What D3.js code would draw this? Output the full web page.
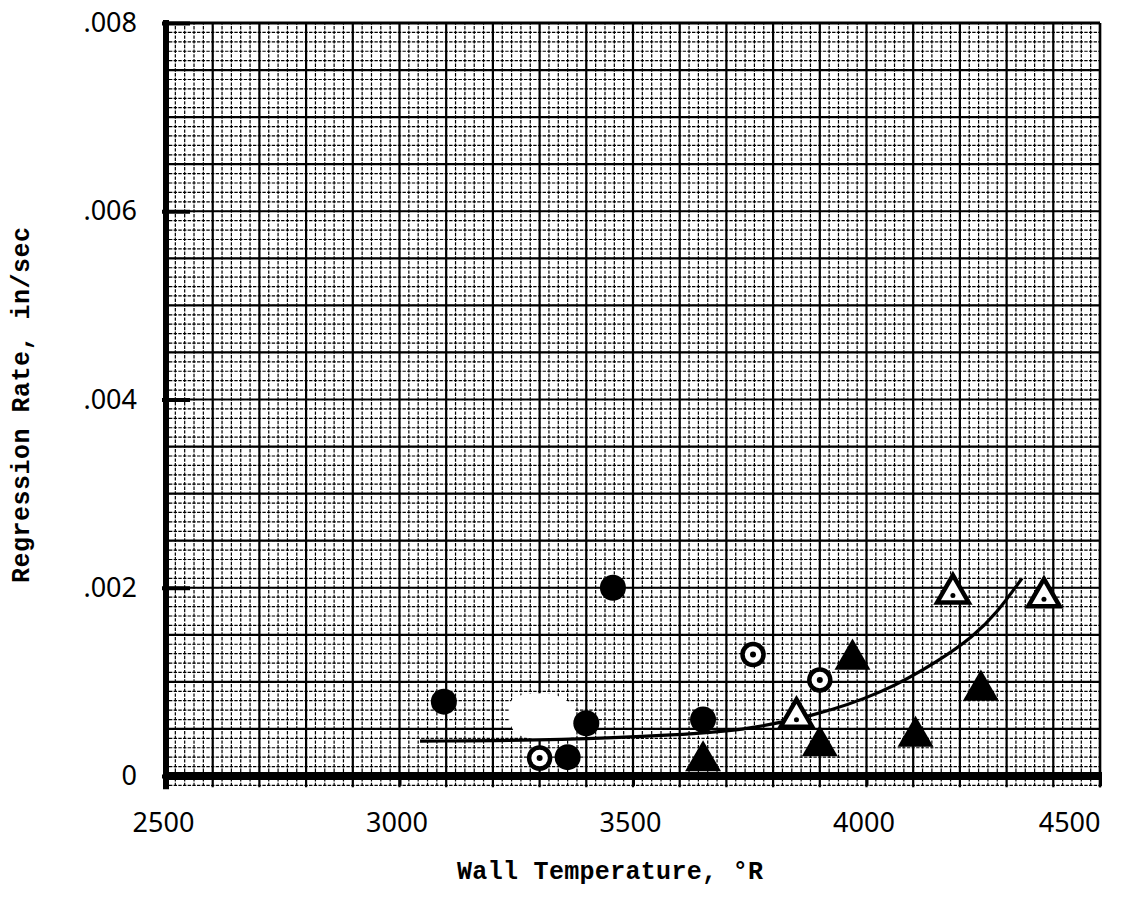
<!DOCTYPE html>
<html>
<head>
<meta charset="utf-8">
<script src="https://cdnjs.cloudflare.com/ajax/libs/d3/7.8.5/d3.min.js"></script>
<style>
  html, body { margin: 0; padding: 0; background: #fff; }
  svg { display: block; }
</style>
</head>
<body>
<script>
// values
const xTicks = [2500, 3000, 3500, 4000, 4500];
const yTicks = [0, 0.002, 0.004, 0.006, 0.008];
const yTickLabels = ["0", ".002", ".004", ".006", ".008"];

// filled circles
const solidCircleTemp = [3095, 3360, 3400, 3457, 3650];
const solidCircleRate = [0.00079, 0.0002, 0.00056, 0.002, 0.0006];
// open circles (centre dot)
const openCircleTemp = [3300, 3757, 3900];
const openCircleRate = [0.00019, 0.00129, 0.00102];
// open triangles (centre dot)
const openTriTemp = [3850, 4185, 4380];
const openTriRate = [0.00062, 0.00194, 0.0019];
// filled triangles
const solidTriTemp = [3650, 3900, 3970, 4105, 4245];
const solidTriRate = [0.00016, 0.00032, 0.00124, 0.00042, 0.00091];

// hand drawn fit curve
const curveTemp = [3044, 3359, 3601, 3729, 3883, 4035, 4157, 4228, 4279, 4333];
const curveRate = [0.00037, 0.00038, 0.00044, 0.00048, 0.00063, 0.00088, 0.00123, 0.00148, 0.00173, 0.0021];

// white erasure patch on the scan
const blotchTemp = [3241, 3301, 3344, 3376, 3372, 3333, 3279, 3241];
const blotchRate = [0.00081, 0.00088, 0.00084, 0.0007, 0.00044, 0.00038, 0.0004, 0.00051];

const width = 1126, height = 902;

const svg = d3.select("body").append("svg")
    .attr("width", width)
    .attr("height", height);

svg.append("rect").attr("width", width).attr("height", height).attr("fill", "#fff");

const x = d3.scaleLinear().domain([2500, 4500]).range([166, 1100]);
const y = d3.scaleLinear().domain([0, 0.008]).range([776, 23]);

const gridBottom = -0.00012;
const grid = svg.append("g");

// minor grid, dotted like the printed paper
const xMinor = x.ticks(100);
const yMinor = y.ticks(80).concat([-0.0001]);
grid.selectAll(".vmin").data(xMinor).join("line")
    .attr("x1", d => x(d)).attr("x2", d => x(d))
    .attr("y1", y(0.008)).attr("y2", y(gridBottom))
    .attr("stroke", "#000").attr("stroke-width", 1.2)
    .attr("stroke-dasharray", "3.4,1.3").attr("stroke-dashoffset", 1.7);
grid.selectAll(".hmin").data(yMinor).join("line")
    .attr("x1", x(2500)).attr("x2", x(4500))
    .attr("y1", d => y(d)).attr("y2", d => y(d))
    .attr("stroke", "#000").attr("stroke-width", 1.2)
    .attr("stroke-dasharray", "3.4,1.27").attr("stroke-dashoffset", 1.7);

// major grid every 100 deg / .0005
grid.selectAll(".vmaj").data(x.ticks(20)).join("line")
    .attr("x1", d => x(d)).attr("x2", d => x(d))
    .attr("y1", y(0.008)).attr("y2", y(gridBottom))
    .attr("stroke", "#000").attr("stroke-width", 2.2);
grid.selectAll(".hmaj").data(y.ticks(16)).join("line")
    .attr("x1", x(2500)).attr("x2", x(4500))
    .attr("y1", d => y(d)).attr("y2", d => y(d))
    .attr("stroke", "#000").attr("stroke-width", 2.2);

// erasure
svg.append("path")
    .datum(blotchTemp.map((t, i) => [t, blotchRate[i]]))
    .attr("d", d3.line().x(d => x(d[0])).y(d => y(d[1])).curve(d3.curveCardinalClosed))
    .attr("fill", "#fff");

// heavy axes
const axisFont = "'Noto Sans', 'DejaVu Sans', sans-serif";

const xAxis = svg.append("g")
    .attr("transform", "translate(0," + y(0) + ")")
    .call(d3.axisBottom(x).tickValues(xTicks).tickFormat(d3.format("d")).tickSize(10).tickSizeOuter(0));
xAxis.select(".domain").remove();
xAxis.selectAll(".tick line").attr("stroke", "#000").attr("stroke-width", 3);
xAxis.selectAll("text")
    .attr("y", 56).attr("dy", null)
    .attr("text-anchor", (d, i) => i === xTicks.length - 1 ? "end" : "middle")
    .attr("dx", (d, i) => i === xTicks.length - 1 ? 0 : -3)
    .style("font-family", axisFont).style("font-size", "27px").style("fill", "#000");

const yAxis = svg.append("g")
    .attr("transform", "translate(" + x(2500) + ",0)")
    .call(d3.axisLeft(y).tickValues(yTicks).tickFormat((d, i) => yTickLabels[i]).tickSizeInner(-24).tickSizeOuter(0).tickPadding(29));
yAxis.select(".domain").remove();
yAxis.selectAll(".tick line").attr("stroke", "#000").attr("stroke-width", 4).attr("x1", -4);
yAxis.selectAll("text")
    .style("font-family", axisFont).style("font-size", "27px").style("fill", "#000");

svg.append("line")
    .attr("x1", x(2500) - 3).attr("x2", x(4500) + 2)
    .attr("y1", y(0)).attr("y2", y(0))
    .attr("stroke", "#000").attr("stroke-width", 8);
svg.append("line")
    .attr("x1", x(2500)).attr("x2", x(2500))
    .attr("y1", y(0.008) - 3).attr("y2", y(gridBottom) + 2)
    .attr("stroke", "#000").attr("stroke-width", 6);
svg.append("line")
    .attr("x1", x(2500)).attr("x2", x(4500))
    .attr("y1", y(0.008)).attr("y2", y(0.008))
    .attr("stroke", "#000").attr("stroke-width", 3);
svg.append("line")
    .attr("x1", x(4500)).attr("x2", x(4500))
    .attr("y1", y(0.008)).attr("y2", y(gridBottom))
    .attr("stroke", "#000").attr("stroke-width", 2.5);

// fit curve
svg.append("path")
    .datum(curveTemp.map((t, i) => [t, curveRate[i]]))
    .attr("d", d3.line().x(d => x(d[0])).y(d => y(d[1])).curve(d3.curveBasis))
    .attr("fill", "none").attr("stroke", "#000").attr("stroke-width", 3.2);

// markers
const pts = (ts, rs) => ts.map((t, i) => [t, rs[i]]);

svg.append("g").selectAll("circle").data(pts(solidCircleTemp, solidCircleRate)).join("circle")
    .attr("cx", d => x(d[0])).attr("cy", d => y(d[1])).attr("r", 13)
    .attr("fill", "#000");

const oc = svg.append("g").selectAll("g").data(pts(openCircleTemp, openCircleRate)).join("g")
    .attr("transform", d => "translate(" + x(d[0]) + "," + y(d[1]) + ")");
oc.append("circle").attr("r", 10.5).attr("fill", "#fff").attr("stroke", "#000").attr("stroke-width", 4.5);
oc.append("circle").attr("r", 3).attr("fill", "#000");

const triOpen = d3.symbol().type(d3.symbolTriangle).size(430);
const triSolid = d3.symbol().type(d3.symbolTriangle).size(560);

const ot = svg.append("g").selectAll("g").data(pts(openTriTemp, openTriRate)).join("g")
    .attr("transform", d => "translate(" + x(d[0]) + "," + y(d[1]) + ")");
ot.append("path").attr("d", triOpen).attr("fill", "#fff").attr("stroke", "#000")
    .attr("stroke-width", 4.5).attr("stroke-linejoin", "miter");
ot.append("circle").attr("r", 2.5).attr("cy", 2).attr("fill", "#000");

svg.append("g").selectAll("path").data(pts(solidTriTemp, solidTriRate)).join("path")
    .attr("transform", d => "translate(" + x(d[0]) + "," + y(d[1]) + ")")
    .attr("d", triSolid).attr("fill", "#000");

// axis titles, typewriter style
const titleFont = "'Liberation Mono', 'Courier New', monospace";
svg.append("text")
    .attr("x", 457).attr("y", 879)
    .attr("textLength", 306).attr("lengthAdjust", "spacing")
    .style("font-family", titleFont).style("font-weight", "bold").style("font-size", "25px")
    .text("Wall Temperature, \u00b0R");

svg.append("text")
    .attr("transform", "translate(29,583) rotate(-90)")
    .attr("textLength", 356).attr("lengthAdjust", "spacing")
    .style("font-family", titleFont).style("font-weight", "bold").style("font-size", "25px")
    .text("Regression Rate, in/sec");
</script>
</body>
</html>
